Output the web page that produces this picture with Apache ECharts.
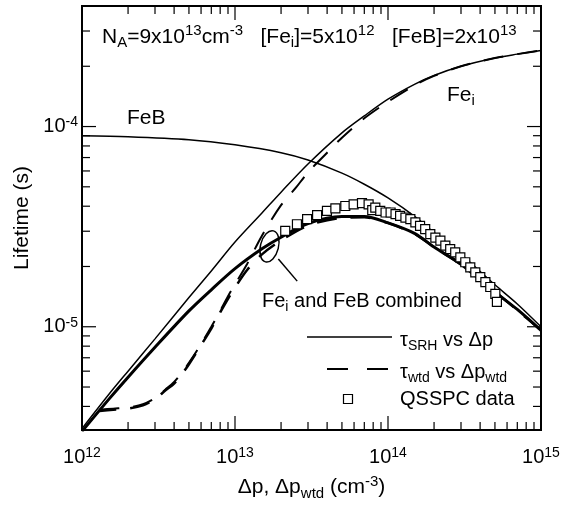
<!DOCTYPE html>
<html><head><meta charset="utf-8">
<script src="https://cdn.jsdelivr.net/npm/echarts/dist/echarts.min.js"></script>
<style>html,body{margin:0;padding:0;background:#fff}#c{width:574px;height:506px}</style>
</head><body><div id="c"></div>
<script>
// ---- data ----
const xFeB   = [1e12, 2e12, 5e12, 1e13, 2e13, 3e13, 5e13, 7e13, 1e14, 1.5e14, 2e14, 3e14, 5e14, 7e14, 1e15];
const tauFeB = [9.0e-5, 8.9e-5, 8.6e-5, 8.1e-5, 7.4e-5, 6.8e-5, 5.85e-5, 5.15e-5, 4.4e-5, 3.55e-5, 2.95e-5, 2.3e-5, 1.62e-5, 1.3e-5, 1.0e-5];

const xFei   = [1e12, 1.5e12, 2e12, 3e12, 5e12, 7e12, 1e13, 1.5e13, 2e13, 3e13, 5e13, 7e13, 1e14, 1.5e14, 2e14, 3e14, 5e14, 7e14, 1e15];
const tauFei = [3.1e-6, 4.6e-6, 6.0e-6, 8.7e-6, 1.4e-5, 1.9e-5, 2.65e-5, 3.7e-5, 4.7e-5, 6.5e-5, 9.3e-5, 1.13e-4, 1.37e-4, 1.63e-4, 1.8e-4, 2.0e-4, 2.2e-4, 2.3e-4, 2.4e-4];

const xComb   = [1e12, 1.5e12, 2e12, 3e12, 5e12, 7e12, 1e13, 1.5e13, 2e13, 3e13, 5e13, 7e13, 1e14, 1.5e14, 2e14, 3e14, 5e14, 7e14, 1e15];
const tauComb = [3.0e-6, 4.35e-6, 5.6e-6, 7.9e-6, 1.2e-5, 1.53e-5, 1.95e-5, 2.45e-5, 2.8e-5, 3.28e-5, 3.55e-5, 3.55e-5, 3.3e-5, 2.92e-5, 2.5e-5, 2.05e-5, 1.49e-5, 1.22e-5, 9.6e-6];

const xFeiW   = [1.3e12, 1.6e12, 2e12, 2.5e12, 3e12, 3.5e12, 4e12, 4.5e12, 5e12, 6e12, 7e12, 8e12, 9e12, 1e13, 1.2e13, 1.5e13, 2e13, 2.5e13, 3e13, 4e13, 5e13, 7e13, 1e14, 1.5e14, 2e14, 3e14, 5e14, 7e14, 1e15];
const tauFeiW = [3.85e-6, 3.9e-6, 3.95e-6, 4.1e-6, 4.4e-6, 4.85e-6, 5.3e-6, 5.9e-6, 6.6e-6, 8.2e-6, 1.0e-5, 1.2e-5, 1.42e-5, 1.63e-5, 2.06e-5, 2.85e-5, 4.05e-5, 4.95e-5, 5.9e-5, 7.4e-5, 8.8e-5, 1.1e-4, 1.33e-4, 1.61e-4, 1.79e-4, 2.0e-4, 2.2e-4, 2.3e-4, 2.4e-4];

const xCombW   = [1.3e12, 1.6e12, 2e12, 2.5e12, 3e12, 3.5e12, 4e12, 4.5e12, 5e12, 6e12, 7e12, 8e12, 9e12, 1e13, 1.2e13, 1.5e13, 2e13, 3e13, 5e13, 7e13, 1e14, 1.5e14, 2e14, 3e14, 5e14, 7e14, 1e15];
const tauCombW = [3.8e-6, 3.85e-6, 3.9e-6, 4.05e-6, 4.35e-6, 4.8e-6, 5.2e-6, 5.8e-6, 6.5e-6, 8.1e-6, 9.8e-6, 1.18e-5, 1.38e-5, 1.57e-5, 1.92e-5, 2.3e-5, 2.7e-5, 3.2e-5, 3.5e-5, 3.52e-5, 3.3e-5, 2.9e-5, 2.5e-5, 2.05e-5, 1.5e-5, 1.21e-5, 9.6e-6];

const xQ = [2.13e13, 2.54e13, 2.96e13, 3.44e13, 3.99e13, 4.53e13, 5.26e13, 5.96e13, 6.76e13, 7.47e13, 7.89e13, 8.26e13, 8.9e13, 9.64e13, 1.04e14, 1.12e14, 1.20e14, 1.30e14, 1.40e14, 1.51e14, 1.62e14, 1.75e14, 1.89e14, 2.04e14, 2.20e14, 2.37e14, 2.55e14, 2.75e14, 2.97e14, 3.20e14, 3.45e14, 3.72e14, 4.01e14, 4.33e14, 4.66e14, 5.03e14, 5.15e14];
const yQ = [3.01e-5, 3.25e-5, 3.45e-5, 3.61e-5, 3.79e-5, 3.90e-5, 4.01e-5, 4.09e-5, 4.14e-5, 4.09e-5, 3.82e-5, 3.94e-5, 3.79e-5, 3.72e-5, 3.72e-5, 3.65e-5, 3.58e-5, 3.51e-5, 3.45e-5, 3.32e-5, 3.19e-5, 3.07e-5, 2.90e-5, 2.79e-5, 2.69e-5, 2.54e-5, 2.44e-5, 2.35e-5, 2.22e-5, 2.10e-5, 1.98e-5, 1.87e-5, 1.77e-5, 1.67e-5, 1.58e-5, 1.46e-5, 1.33e-5];

const xMajorTicks = [1e13, 1e14];
const xMinorTicks = [2e12,3e12,4e12,5e12,6e12,7e12,8e12,9e12, 2e13,3e13,4e13,5e13,6e13,7e13,8e13,9e13, 2e14,3e14,4e14,5e14,6e14,7e14,8e14,9e14];
const yMajorTicks = [1e-5, 1e-4];
const yMinorTicks = [4e-6,5e-6,6e-6,7e-6,8e-6,9e-6, 2e-5,3e-5,4e-5,5e-5,6e-5,7e-5,8e-5,9e-5, 2e-4,3e-4];

// ---- chart ----
const F = 'Liberation Sans, Arial, Helvetica, sans-serif';
function mkRich(size, small) {
  return {
    t:   {fontFamily:F, fontSize:size, color:'#000', fill:'#000', lineHeight:size + 6},
    b:   {fontFamily:F, fontSize:size, color:'#000', fill:'#000', lineHeight:size + 2},
    s:   {fontFamily:F, fontSize:small, color:'#000', fill:'#000', lineHeight:small, verticalAlign:'top'},
    sup: {fontFamily:F, fontSize:small, color:'#000', fill:'#000', lineHeight:small, verticalAlign:'top'},
    sub: {fontFamily:F, fontSize:small, color:'#000', fill:'#000', lineHeight:10, verticalAlign:'bottom'}
  };
}
const rich = mkRich(20, 14);
const richBig = mkRich(21, 15);
function powLabel(v) {
  const l = Math.log10(v), e = Math.round(l);
  if (Math.abs(l - e) > 1e-6) return '';
  return '{b|10}{s|' + e + '}';
}
const zip = (a, b) => a.map((v, i) => [v, b[i]]);

function xTick(len) {
  return function (params, api) {
    const cs = params.coordSys;
    const px = api.coord([api.value(0), api.value(1)])[0];
    const b = cs.y + cs.height;
    return {type:'group', children:[
      {type:'line', shape:{x1:px, y1:b, x2:px, y2:b - len}, style:{stroke:'#000', lineWidth:1.2}},
      {type:'line', shape:{x1:px, y1:cs.y, x2:px, y2:cs.y + len}, style:{stroke:'#000', lineWidth:1.2}}
    ]};
  };
}
function yTick(len) {
  return function (params, api) {
    const cs = params.coordSys;
    const py = api.coord([api.value(0), api.value(1)])[1];
    const r = cs.x + cs.width;
    return {type:'group', children:[
      {type:'line', shape:{x1:cs.x, y1:py, x2:cs.x + len, y2:py}, style:{stroke:'#000', lineWidth:1.2}},
      {type:'line', shape:{x1:r, y1:py, x2:r - len, y2:py}, style:{stroke:'#000', lineWidth:1.2}}
    ]};
  };
}

const chart = echarts.init(document.getElementById('c'));
const option = {
  animation: false,
  backgroundColor: '#fff',
  grid: {left: 82, right: 33, top: 6, bottom: 75, show: true, borderColor: '#000', borderWidth: 2, backgroundColor: 'transparent'},
  xAxis: {
    type: 'log', logBase: 10, min: 1e12, max: 1e15,
    axisLine: {show: false}, axisTick: {show: false}, splitLine: {show: false},
    axisLabel: {formatter: powLabel, rich: rich, margin: 16, showMinLabel: true, showMaxLabel: true},
    name: '{t|Δp, Δp}{sub|wtd}{t| (cm}{sup|-3}{t|)}', nameLocation: 'middle', nameGap: 44,
    nameTextStyle: {rich: richBig}
  },
  yAxis: {
    type: 'log', logBase: 10, min: 3.05e-6, max: 4.0e-4,
    axisLine: {show: false}, axisTick: {show: false}, splitLine: {show: false},
    axisLabel: {formatter: powLabel, rich: rich, margin: 4},
    name: 'Lifetime (s)', nameLocation: 'middle', nameGap: 46, nameRotate: 90,
    nameTextStyle: {fontFamily: F, fontSize: 21, color: '#000'}
  },
  series: [
    {type: 'custom', renderItem: xTick(14), data: xMajorTicks.map(v => [v, 1e-5]), silent: true, z: 10},
    {type: 'custom', renderItem: xTick(8), data: xMinorTicks.map(v => [v, 1e-5]), silent: true, z: 10},
    {type: 'custom', renderItem: yTick(14), data: yMajorTicks.map(v => [1e13, v]), silent: true, z: 10},
    {type: 'custom', renderItem: yTick(8), data: yMinorTicks.map(v => [1e13, v]), silent: true, z: 10},
    {name: 'FeB', type: 'line', data: zip(xFeB, tauFeB), symbol: 'none', smooth: 0.3,
     lineStyle: {color: '#000', width: 1.5}},
    {name: 'Fei', type: 'line', data: zip(xFei, tauFei), symbol: 'none', smooth: 0.3,
     lineStyle: {color: '#000', width: 1.5}},
    {name: 'tauSRH', type: 'line', data: zip(xComb, tauComb), symbol: 'none', smooth: 0.3,
     lineStyle: {color: '#000', width: 3}},
    {name: 'FeiW', type: 'line', data: zip(xFeiW, tauFeiW), symbol: 'none', smooth: 0.3,
     lineStyle: {color: '#000', width: 2, type: [20, 14]}},
    {name: 'tauWtd', type: 'line', data: zip(xCombW, tauCombW), symbol: 'none', smooth: 0.3,
     lineStyle: {color: '#000', width: 2.5, type: [20, 14], dashOffset: 3}},
    {name: 'QSSPC data', type: 'scatter', data: zip(xQ, yQ), symbol: 'rect', symbolSize: 9, z: 5,
     itemStyle: {color: '#fff', borderColor: '#000', borderWidth: 1.2, opacity: 1}}
  ]
};
chart.setOption(option);

// annotations anchored to data coordinates
const ellC = chart.convertToPixel({gridIndex: 0}, [1.68e13, 2.52e-5]);
const lead1 = chart.convertToPixel({gridIndex: 0}, [1.92e13, 2.18e-5]);
const lead2 = chart.convertToPixel({gridIndex: 0}, [2.55e13, 1.69e-5]);

chart.setOption({
  graphic: [
    {type: 'text', x: 102, y: 37, z: 20, style: {
      text: '{t|N}{sub|A}{t|=9x10}{sup|13}{t|cm}{sup|-3}{t|   [Fe}{sub|i}{t|]=5x10}{sup|12}{t|   [FeB]=2x10}{sup|13}',
      rich: richBig, verticalAlign: 'middle', align: 'left'}},
    {type: 'text', x: 127, y: 118, z: 20, style: {text: '{t|FeB}', rich: richBig, verticalAlign: 'middle', align: 'left'}},
    {type: 'text', x: 447, y: 95, z: 20, style: {text: '{t|Fe}{sub|i}', rich: richBig, verticalAlign: 'middle', align: 'left'}},
    {type: 'text', x: 262, y: 301, z: 20, style: {text: '{t|Fe}{sub|i}{t| and FeB combined}', rich: rich, verticalAlign: 'middle', align: 'left'}},
    {type: 'ellipse', x: ellC[0], y: ellC[1], rotation: -0.25, z: 20,
     shape: {cx: 0, cy: 0, rx: 9, ry: 16}, style: {fill: 'none', stroke: '#000', lineWidth: 1.5}},
    {type: 'line', z: 20, shape: {x1: lead1[0], y1: lead1[1], x2: lead2[0], y2: lead2[1]},
     style: {stroke: '#000', lineWidth: 1.5}},
    // legend
    {type: 'line', z: 20, shape: {x1: 307, y1: 337, x2: 392, y2: 337}, style: {stroke: '#000', lineWidth: 1.5}},
    {type: 'text', x: 400, y: 340, z: 20, style: {text: '{t|τ}{sub|SRH}{t| vs Δp}', rich: rich, verticalAlign: 'middle', align: 'left'}},
    {type: 'line', z: 20, shape: {x1: 327, y1: 369, x2: 388, y2: 369}, style: {stroke: '#000', lineWidth: 2.2, lineDash: [21, 19]}},
    {type: 'text', x: 400, y: 372, z: 20, style: {text: '{t|τ}{sub|wtd}{t| vs Δp}{sub|wtd}', rich: rich, verticalAlign: 'middle', align: 'left'}},
    {type: 'rect', z: 20, shape: {x: 343.5, y: 394.5, width: 9, height: 9}, style: {fill: '#fff', stroke: '#000', lineWidth: 1.2}},
    {type: 'text', x: 400, y: 399, z: 20, style: {text: '{t|QSSPC data}', rich: rich, verticalAlign: 'middle', align: 'left'}}
  ]
});
</script></body></html>
